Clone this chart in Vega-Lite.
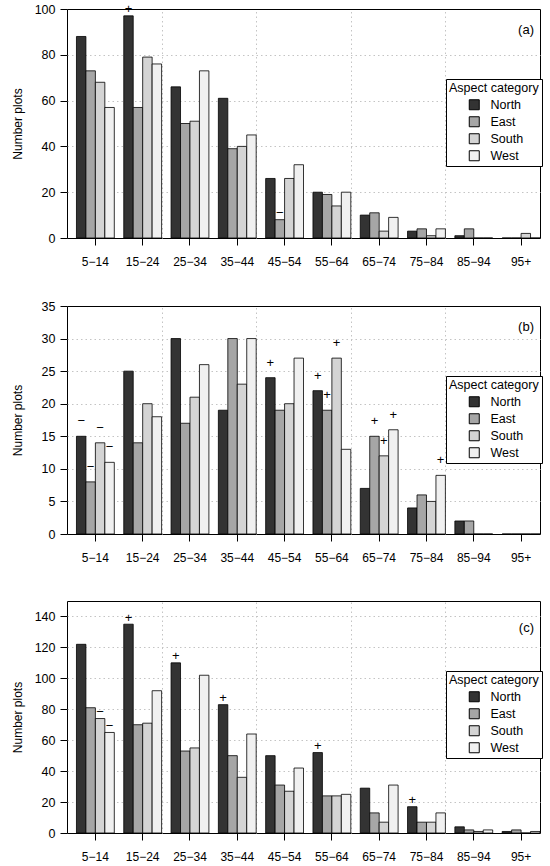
{
  "$schema": "https://vega.github.io/schema/vega-lite/v6.json",
  "description": "Number of plots by age class and aspect category, three panels",
  "padding": {"left": 10, "top": 2, "right": 0, "bottom": 0},
  "background": "white",
  "data": {
    "values": [
      {"panel": "a", "age": "5−14", "aspect": "North", "n": 88, "sign": ""},
      {"panel": "a", "age": "5−14", "aspect": "East", "n": 73, "sign": ""},
      {"panel": "a", "age": "5−14", "aspect": "South", "n": 68, "sign": ""},
      {"panel": "a", "age": "5−14", "aspect": "West", "n": 57, "sign": ""},
      {"panel": "a", "age": "15−24", "aspect": "North", "n": 97, "sign": "+"},
      {"panel": "a", "age": "15−24", "aspect": "East", "n": 57, "sign": ""},
      {"panel": "a", "age": "15−24", "aspect": "South", "n": 79, "sign": ""},
      {"panel": "a", "age": "15−24", "aspect": "West", "n": 76, "sign": ""},
      {"panel": "a", "age": "25−34", "aspect": "North", "n": 66, "sign": ""},
      {"panel": "a", "age": "25−34", "aspect": "East", "n": 50, "sign": ""},
      {"panel": "a", "age": "25−34", "aspect": "South", "n": 51, "sign": ""},
      {"panel": "a", "age": "25−34", "aspect": "West", "n": 73, "sign": ""},
      {"panel": "a", "age": "35−44", "aspect": "North", "n": 61, "sign": ""},
      {"panel": "a", "age": "35−44", "aspect": "East", "n": 39, "sign": ""},
      {"panel": "a", "age": "35−44", "aspect": "South", "n": 40, "sign": ""},
      {"panel": "a", "age": "35−44", "aspect": "West", "n": 45, "sign": ""},
      {"panel": "a", "age": "45−54", "aspect": "North", "n": 26, "sign": ""},
      {"panel": "a", "age": "45−54", "aspect": "East", "n": 8, "sign": "−"},
      {"panel": "a", "age": "45−54", "aspect": "South", "n": 26, "sign": ""},
      {"panel": "a", "age": "45−54", "aspect": "West", "n": 32, "sign": ""},
      {"panel": "a", "age": "55−64", "aspect": "North", "n": 20, "sign": ""},
      {"panel": "a", "age": "55−64", "aspect": "East", "n": 19, "sign": ""},
      {"panel": "a", "age": "55−64", "aspect": "South", "n": 14, "sign": ""},
      {"panel": "a", "age": "55−64", "aspect": "West", "n": 20, "sign": ""},
      {"panel": "a", "age": "65−74", "aspect": "North", "n": 10, "sign": ""},
      {"panel": "a", "age": "65−74", "aspect": "East", "n": 11, "sign": ""},
      {"panel": "a", "age": "65−74", "aspect": "South", "n": 3, "sign": ""},
      {"panel": "a", "age": "65−74", "aspect": "West", "n": 9, "sign": ""},
      {"panel": "a", "age": "75−84", "aspect": "North", "n": 3, "sign": ""},
      {"panel": "a", "age": "75−84", "aspect": "East", "n": 4, "sign": ""},
      {"panel": "a", "age": "75−84", "aspect": "South", "n": 1, "sign": ""},
      {"panel": "a", "age": "75−84", "aspect": "West", "n": 4, "sign": ""},
      {"panel": "a", "age": "85−94", "aspect": "North", "n": 1, "sign": ""},
      {"panel": "a", "age": "85−94", "aspect": "East", "n": 4, "sign": ""},
      {"panel": "a", "age": "85−94", "aspect": "South", "n": 0, "sign": ""},
      {"panel": "a", "age": "85−94", "aspect": "West", "n": 0, "sign": ""},
      {"panel": "a", "age": "95+", "aspect": "North", "n": 0, "sign": ""},
      {"panel": "a", "age": "95+", "aspect": "East", "n": 0, "sign": ""},
      {"panel": "a", "age": "95+", "aspect": "South", "n": 2, "sign": ""},
      {"panel": "a", "age": "95+", "aspect": "West", "n": 0, "sign": ""},

      {"panel": "b", "age": "5−14", "aspect": "North", "n": 15, "sign": "−"},
      {"panel": "b", "age": "5−14", "aspect": "East", "n": 8, "sign": "−"},
      {"panel": "b", "age": "5−14", "aspect": "South", "n": 14, "sign": "−"},
      {"panel": "b", "age": "5−14", "aspect": "West", "n": 11, "sign": "−"},
      {"panel": "b", "age": "15−24", "aspect": "North", "n": 25, "sign": ""},
      {"panel": "b", "age": "15−24", "aspect": "East", "n": 14, "sign": ""},
      {"panel": "b", "age": "15−24", "aspect": "South", "n": 20, "sign": ""},
      {"panel": "b", "age": "15−24", "aspect": "West", "n": 18, "sign": ""},
      {"panel": "b", "age": "25−34", "aspect": "North", "n": 30, "sign": ""},
      {"panel": "b", "age": "25−34", "aspect": "East", "n": 17, "sign": ""},
      {"panel": "b", "age": "25−34", "aspect": "South", "n": 21, "sign": ""},
      {"panel": "b", "age": "25−34", "aspect": "West", "n": 26, "sign": ""},
      {"panel": "b", "age": "35−44", "aspect": "North", "n": 19, "sign": ""},
      {"panel": "b", "age": "35−44", "aspect": "East", "n": 30, "sign": ""},
      {"panel": "b", "age": "35−44", "aspect": "South", "n": 23, "sign": ""},
      {"panel": "b", "age": "35−44", "aspect": "West", "n": 30, "sign": ""},
      {"panel": "b", "age": "45−54", "aspect": "North", "n": 24, "sign": "+"},
      {"panel": "b", "age": "45−54", "aspect": "East", "n": 19, "sign": ""},
      {"panel": "b", "age": "45−54", "aspect": "South", "n": 20, "sign": ""},
      {"panel": "b", "age": "45−54", "aspect": "West", "n": 27, "sign": ""},
      {"panel": "b", "age": "55−64", "aspect": "North", "n": 22, "sign": "+"},
      {"panel": "b", "age": "55−64", "aspect": "East", "n": 19, "sign": "+"},
      {"panel": "b", "age": "55−64", "aspect": "South", "n": 27, "sign": "+"},
      {"panel": "b", "age": "55−64", "aspect": "West", "n": 13, "sign": ""},
      {"panel": "b", "age": "65−74", "aspect": "North", "n": 7, "sign": ""},
      {"panel": "b", "age": "65−74", "aspect": "East", "n": 15, "sign": "+"},
      {"panel": "b", "age": "65−74", "aspect": "South", "n": 12, "sign": "+"},
      {"panel": "b", "age": "65−74", "aspect": "West", "n": 16, "sign": "+"},
      {"panel": "b", "age": "75−84", "aspect": "North", "n": 4, "sign": ""},
      {"panel": "b", "age": "75−84", "aspect": "East", "n": 6, "sign": ""},
      {"panel": "b", "age": "75−84", "aspect": "South", "n": 5, "sign": ""},
      {"panel": "b", "age": "75−84", "aspect": "West", "n": 9, "sign": "+"},
      {"panel": "b", "age": "85−94", "aspect": "North", "n": 2, "sign": ""},
      {"panel": "b", "age": "85−94", "aspect": "East", "n": 2, "sign": ""},
      {"panel": "b", "age": "85−94", "aspect": "South", "n": 0, "sign": ""},
      {"panel": "b", "age": "85−94", "aspect": "West", "n": 0, "sign": ""},
      {"panel": "b", "age": "95+", "aspect": "North", "n": 0, "sign": ""},
      {"panel": "b", "age": "95+", "aspect": "East", "n": 0, "sign": ""},
      {"panel": "b", "age": "95+", "aspect": "South", "n": 0, "sign": ""},
      {"panel": "b", "age": "95+", "aspect": "West", "n": 0, "sign": ""},

      {"panel": "c", "age": "5−14", "aspect": "North", "n": 122, "sign": ""},
      {"panel": "c", "age": "5−14", "aspect": "East", "n": 81, "sign": ""},
      {"panel": "c", "age": "5−14", "aspect": "South", "n": 74, "sign": "−"},
      {"panel": "c", "age": "5−14", "aspect": "West", "n": 65, "sign": "−"},
      {"panel": "c", "age": "15−24", "aspect": "North", "n": 135, "sign": "+"},
      {"panel": "c", "age": "15−24", "aspect": "East", "n": 70, "sign": ""},
      {"panel": "c", "age": "15−24", "aspect": "South", "n": 71, "sign": ""},
      {"panel": "c", "age": "15−24", "aspect": "West", "n": 92, "sign": ""},
      {"panel": "c", "age": "25−34", "aspect": "North", "n": 110, "sign": "+"},
      {"panel": "c", "age": "25−34", "aspect": "East", "n": 53, "sign": ""},
      {"panel": "c", "age": "25−34", "aspect": "South", "n": 55, "sign": ""},
      {"panel": "c", "age": "25−34", "aspect": "West", "n": 102, "sign": ""},
      {"panel": "c", "age": "35−44", "aspect": "North", "n": 83, "sign": "+"},
      {"panel": "c", "age": "35−44", "aspect": "East", "n": 50, "sign": ""},
      {"panel": "c", "age": "35−44", "aspect": "South", "n": 36, "sign": ""},
      {"panel": "c", "age": "35−44", "aspect": "West", "n": 64, "sign": ""},
      {"panel": "c", "age": "45−54", "aspect": "North", "n": 50, "sign": ""},
      {"panel": "c", "age": "45−54", "aspect": "East", "n": 31, "sign": ""},
      {"panel": "c", "age": "45−54", "aspect": "South", "n": 27, "sign": ""},
      {"panel": "c", "age": "45−54", "aspect": "West", "n": 42, "sign": ""},
      {"panel": "c", "age": "55−64", "aspect": "North", "n": 52, "sign": "+"},
      {"panel": "c", "age": "55−64", "aspect": "East", "n": 24, "sign": ""},
      {"panel": "c", "age": "55−64", "aspect": "South", "n": 24, "sign": ""},
      {"panel": "c", "age": "55−64", "aspect": "West", "n": 25, "sign": ""},
      {"panel": "c", "age": "65−74", "aspect": "North", "n": 29, "sign": ""},
      {"panel": "c", "age": "65−74", "aspect": "East", "n": 13, "sign": ""},
      {"panel": "c", "age": "65−74", "aspect": "South", "n": 7, "sign": ""},
      {"panel": "c", "age": "65−74", "aspect": "West", "n": 31, "sign": ""},
      {"panel": "c", "age": "75−84", "aspect": "North", "n": 17, "sign": "+"},
      {"panel": "c", "age": "75−84", "aspect": "East", "n": 7, "sign": ""},
      {"panel": "c", "age": "75−84", "aspect": "South", "n": 7, "sign": ""},
      {"panel": "c", "age": "75−84", "aspect": "West", "n": 13, "sign": ""},
      {"panel": "c", "age": "85−94", "aspect": "North", "n": 4, "sign": ""},
      {"panel": "c", "age": "85−94", "aspect": "East", "n": 2, "sign": ""},
      {"panel": "c", "age": "85−94", "aspect": "South", "n": 1, "sign": ""},
      {"panel": "c", "age": "85−94", "aspect": "West", "n": 2, "sign": ""},
      {"panel": "c", "age": "95+", "aspect": "North", "n": 1, "sign": ""},
      {"panel": "c", "age": "95+", "aspect": "East", "n": 2, "sign": ""},
      {"panel": "c", "age": "95+", "aspect": "South", "n": 0, "sign": ""},
      {"panel": "c", "age": "95+", "aspect": "West", "n": 1, "sign": ""}
    ]
  },
  "spacing": 31,
  "vconcat": [
    {
      "width": 473,
      "height": 229,
      "title": {"text": "(a)", "anchor": "end", "frame": "group", "offset": -34, "dx": -6, "fontSize": 13, "fontWeight": "normal", "color": "black"},
      "transform": [{"filter": "datum.panel === 'a'"}],
      "encoding": {
        "y": {"field": "n", "type": "quantitative",
          "scale": {"domain": [0, 100], "nice": false},
          "axis": {"title": "Number plots", "values": [0, 20, 40, 60, 80, 100], "grid": true, "gridColor": "#c4c4c4", "gridDash": [1.5, 3],
            "gridOpacity": {"condition": {"test": "datum.value === 0 || datum.value === 100", "value": 0}, "value": 1},
            "domain": false, "tickSize": 7, "labelFontSize": 12.5, "labelPadding": 5, "titleFontSize": 12, "titleX": -50, "titleBaseline": "middle"}}
      },
      "layer": [
        {
          "mark": {"type": "rule", "opacity": 0},
          "encoding": {
            "x": {"datum": 0, "type": "quantitative",
              "scale": {"domain": [0, 50], "nice": false, "zero": false},
              "axis": {"orient": "top", "title": null, "grid": true, "gridOpacity": 1, "ticks": false, "labels": false, "domain": false, "values": [10, 20, 30, 40], "gridColor": "#c4c4c4", "gridDash": [1.5, 3]}}
          }
        },
        {
          "encoding": {
            "x": {"field": "age", "type": "nominal", "sort": null,
              "scale": {"domain": ["5−14", "15−24", "25−34", "35−44", "45−54", "55−64", "65−74", "75−84", "85−94", "95+"], "paddingInner": 0.2, "paddingOuter": 0.1, "align": 1},
              "axis": {"orient": "bottom", "title": null, "grid": false, "domain": false, "tickSize": 7, "labelAngle": 0, "labelFontSize": 12, "labelPadding": 11}},
            "xOffset": {"field": "aspect", "type": "nominal", "sort": ["North", "East", "South", "West"], "scale": {"paddingInner": 0, "paddingOuter": 0}}
          },
          "layer": [
            {
              "mark": {"type": "bar", "stroke": "black", "strokeWidth": 0.8},
              "encoding": {
                "fill": {"field": "aspect", "type": "nominal", "title": "Aspect category",
                  "scale": {"domain": ["North", "East", "South", "West"], "range": ["#333333", "#a6a6a6", "#d4d4d4", "#f0f0f0"]},
                  "legend": {"orient": "none", "legendX": 379, "legendY": 70}}
              }
            },
            {
              "transform": [{"filter": "datum.sign !== ''"}],
              "mark": {"type": "text", "dy": -6.5, "fontSize": 13, "baseline": "middle", "color": "black"},
              "encoding": {"text": {"field": "sign"}}
            }
          ]
        }
      ],
      "resolve": {"scale": {"x": "independent"}}
    },
    {
      "spacing": 36,
      "vconcat": [
        {
          "width": 473,
          "height": 228,
          "title": {"text": "(b)", "anchor": "end", "frame": "group", "offset": -34, "dx": -6, "fontSize": 13, "fontWeight": "normal", "color": "black"},
          "transform": [{"filter": "datum.panel === 'b'"}],
          "encoding": {
            "y": {"field": "n", "type": "quantitative",
              "scale": {"domain": [0, 35], "nice": false},
              "axis": {"title": "Number plots", "values": [0, 5, 10, 15, 20, 25, 30, 35], "grid": true, "gridColor": "#c4c4c4", "gridDash": [1.5, 3],
                "gridOpacity": {"condition": {"test": "datum.value === 0 || datum.value === 35", "value": 0}, "value": 1},
                "domain": false, "tickSize": 7, "labelFontSize": 12.5, "labelPadding": 5, "titleFontSize": 12, "titleX": -50, "titleBaseline": "middle"}}
          },
          "layer": [
            {
              "mark": {"type": "rule", "opacity": 0},
              "encoding": {
                "x": {"datum": 0, "type": "quantitative",
                  "scale": {"domain": [0, 50], "nice": false, "zero": false},
                  "axis": {"orient": "top", "title": null, "grid": true, "gridOpacity": 1, "ticks": false, "labels": false, "domain": false, "values": [10, 20, 30, 40], "gridColor": "#c4c4c4", "gridDash": [1.5, 3]}}
              }
            },
            {
              "encoding": {
                "x": {"field": "age", "type": "nominal", "sort": null,
                  "scale": {"domain": ["5−14", "15−24", "25−34", "35−44", "45−54", "55−64", "65−74", "75−84", "85−94", "95+"], "paddingInner": 0.2, "paddingOuter": 0.1, "align": 1},
                  "axis": {"orient": "bottom", "title": null, "grid": false, "domain": false, "tickSize": 7, "labelAngle": 0, "labelFontSize": 12, "labelPadding": 11}},
                "xOffset": {"field": "aspect", "type": "nominal", "sort": ["North", "East", "South", "West"], "scale": {"paddingInner": 0, "paddingOuter": 0}}
              },
              "layer": [
                {
                  "mark": {"type": "bar", "stroke": "black", "strokeWidth": 0.8},
                  "encoding": {
                    "fill": {"field": "aspect", "type": "nominal", "title": "Aspect category",
                      "scale": {"domain": ["North", "East", "South", "West"], "range": ["#333333", "#a6a6a6", "#d4d4d4", "#f0f0f0"]},
                      "legend": {"orient": "none", "legendX": 379, "legendY": 70}}
                  }
                },
                {
                  "transform": [{"filter": "datum.sign !== ''"}],
                  "mark": {"type": "text", "dy": -15, "fontSize": 13, "baseline": "middle", "color": "black"},
                  "encoding": {"text": {"field": "sign"}}
                }
              ]
            }
          ],
          "resolve": {"scale": {"x": "independent"}}
        },
        {
          "width": 473,
          "height": 232,
          "title": {"text": "(c)", "anchor": "end", "frame": "group", "offset": -34, "dx": -6, "fontSize": 13, "fontWeight": "normal", "color": "black"},
          "transform": [{"filter": "datum.panel === 'c'"}],
          "encoding": {
            "y": {"field": "n", "type": "quantitative",
              "scale": {"domain": [0, 150], "nice": false},
              "axis": {"title": "Number plots", "values": [0, 20, 40, 60, 80, 100, 120, 140], "grid": true, "gridColor": "#c4c4c4", "gridDash": [1.5, 3],
                "gridOpacity": {"condition": {"test": "datum.value === 0", "value": 0}, "value": 1},
                "domain": false, "tickSize": 7, "labelFontSize": 12.5, "labelPadding": 5, "titleFontSize": 12, "titleX": -50, "titleBaseline": "middle"}}
          },
          "layer": [
            {
              "mark": {"type": "rule", "opacity": 0},
              "encoding": {
                "x": {"datum": 0, "type": "quantitative",
                  "scale": {"domain": [0, 50], "nice": false, "zero": false},
                  "axis": {"orient": "top", "title": null, "grid": true, "gridOpacity": 1, "ticks": false, "labels": false, "domain": false, "values": [10, 20, 30, 40], "gridColor": "#c4c4c4", "gridDash": [1.5, 3]}}
              }
            },
            {
              "encoding": {
                "x": {"field": "age", "type": "nominal", "sort": null,
                  "scale": {"domain": ["5−14", "15−24", "25−34", "35−44", "45−54", "55−64", "65−74", "75−84", "85−94", "95+"], "paddingInner": 0.2, "paddingOuter": 0.1, "align": 1},
                  "axis": {"orient": "bottom", "title": null, "grid": false, "domain": false, "tickSize": 7, "labelAngle": 0, "labelFontSize": 12, "labelPadding": 11}},
                "xOffset": {"field": "aspect", "type": "nominal", "sort": ["North", "East", "South", "West"], "scale": {"paddingInner": 0, "paddingOuter": 0}}
              },
              "layer": [
                {
                  "mark": {"type": "bar", "stroke": "black", "strokeWidth": 0.8},
                  "encoding": {
                    "fill": {"field": "aspect", "type": "nominal", "title": "Aspect category",
                      "scale": {"domain": ["North", "East", "South", "West"], "range": ["#333333", "#a6a6a6", "#d4d4d4", "#f0f0f0"]},
                      "legend": {"orient": "none", "legendX": 379, "legendY": 70}}
                  }
                },
                {
                  "transform": [{"filter": "datum.sign !== ''"}],
                  "mark": {"type": "text", "dy": -6.5, "fontSize": 13, "baseline": "middle", "color": "black"},
                  "encoding": {"text": {"field": "sign"}}
                }
              ]
            }
          ],
          "resolve": {"scale": {"x": "independent"}}
        }
      ],
      "resolve": {"scale": {"fill": "independent", "y": "independent"}, "legend": {"fill": "independent"}}
    }
  ],
  "resolve": {"scale": {"fill": "independent", "y": "independent"}, "legend": {"fill": "independent"}},
  "config": {
    "font": "Liberation Sans",
    "view": {"stroke": "black", "strokeWidth": 1},
    "axis": {"labelColor": "black", "titleColor": "black", "titleFontWeight": "normal", "tickColor": "black", "domainColor": "black", "labelFont": "Liberation Sans", "titleFont": "Liberation Sans"},
    "legend": {
      "strokeColor": "black",
      "fillColor": "white",
      "padding": 3,
      "cornerRadius": 0,
      "titleFontSize": 12.5,
      "titleFontWeight": "normal",
      "titleColor": "black",
      "titlePadding": 4,
      "labelFontSize": 12.5,
      "labelColor": "black",
      "symbolType": "square",
      "symbolSize": 100,
      "symbolStrokeColor": "black",
      "symbolStrokeWidth": 1,
      "symbolOpacity": 1,
      "symbolOffset": 19,
      "labelOffset": 10,
      "rowPadding": 2
    },
    "text": {"font": "Liberation Sans"}
  }
}
